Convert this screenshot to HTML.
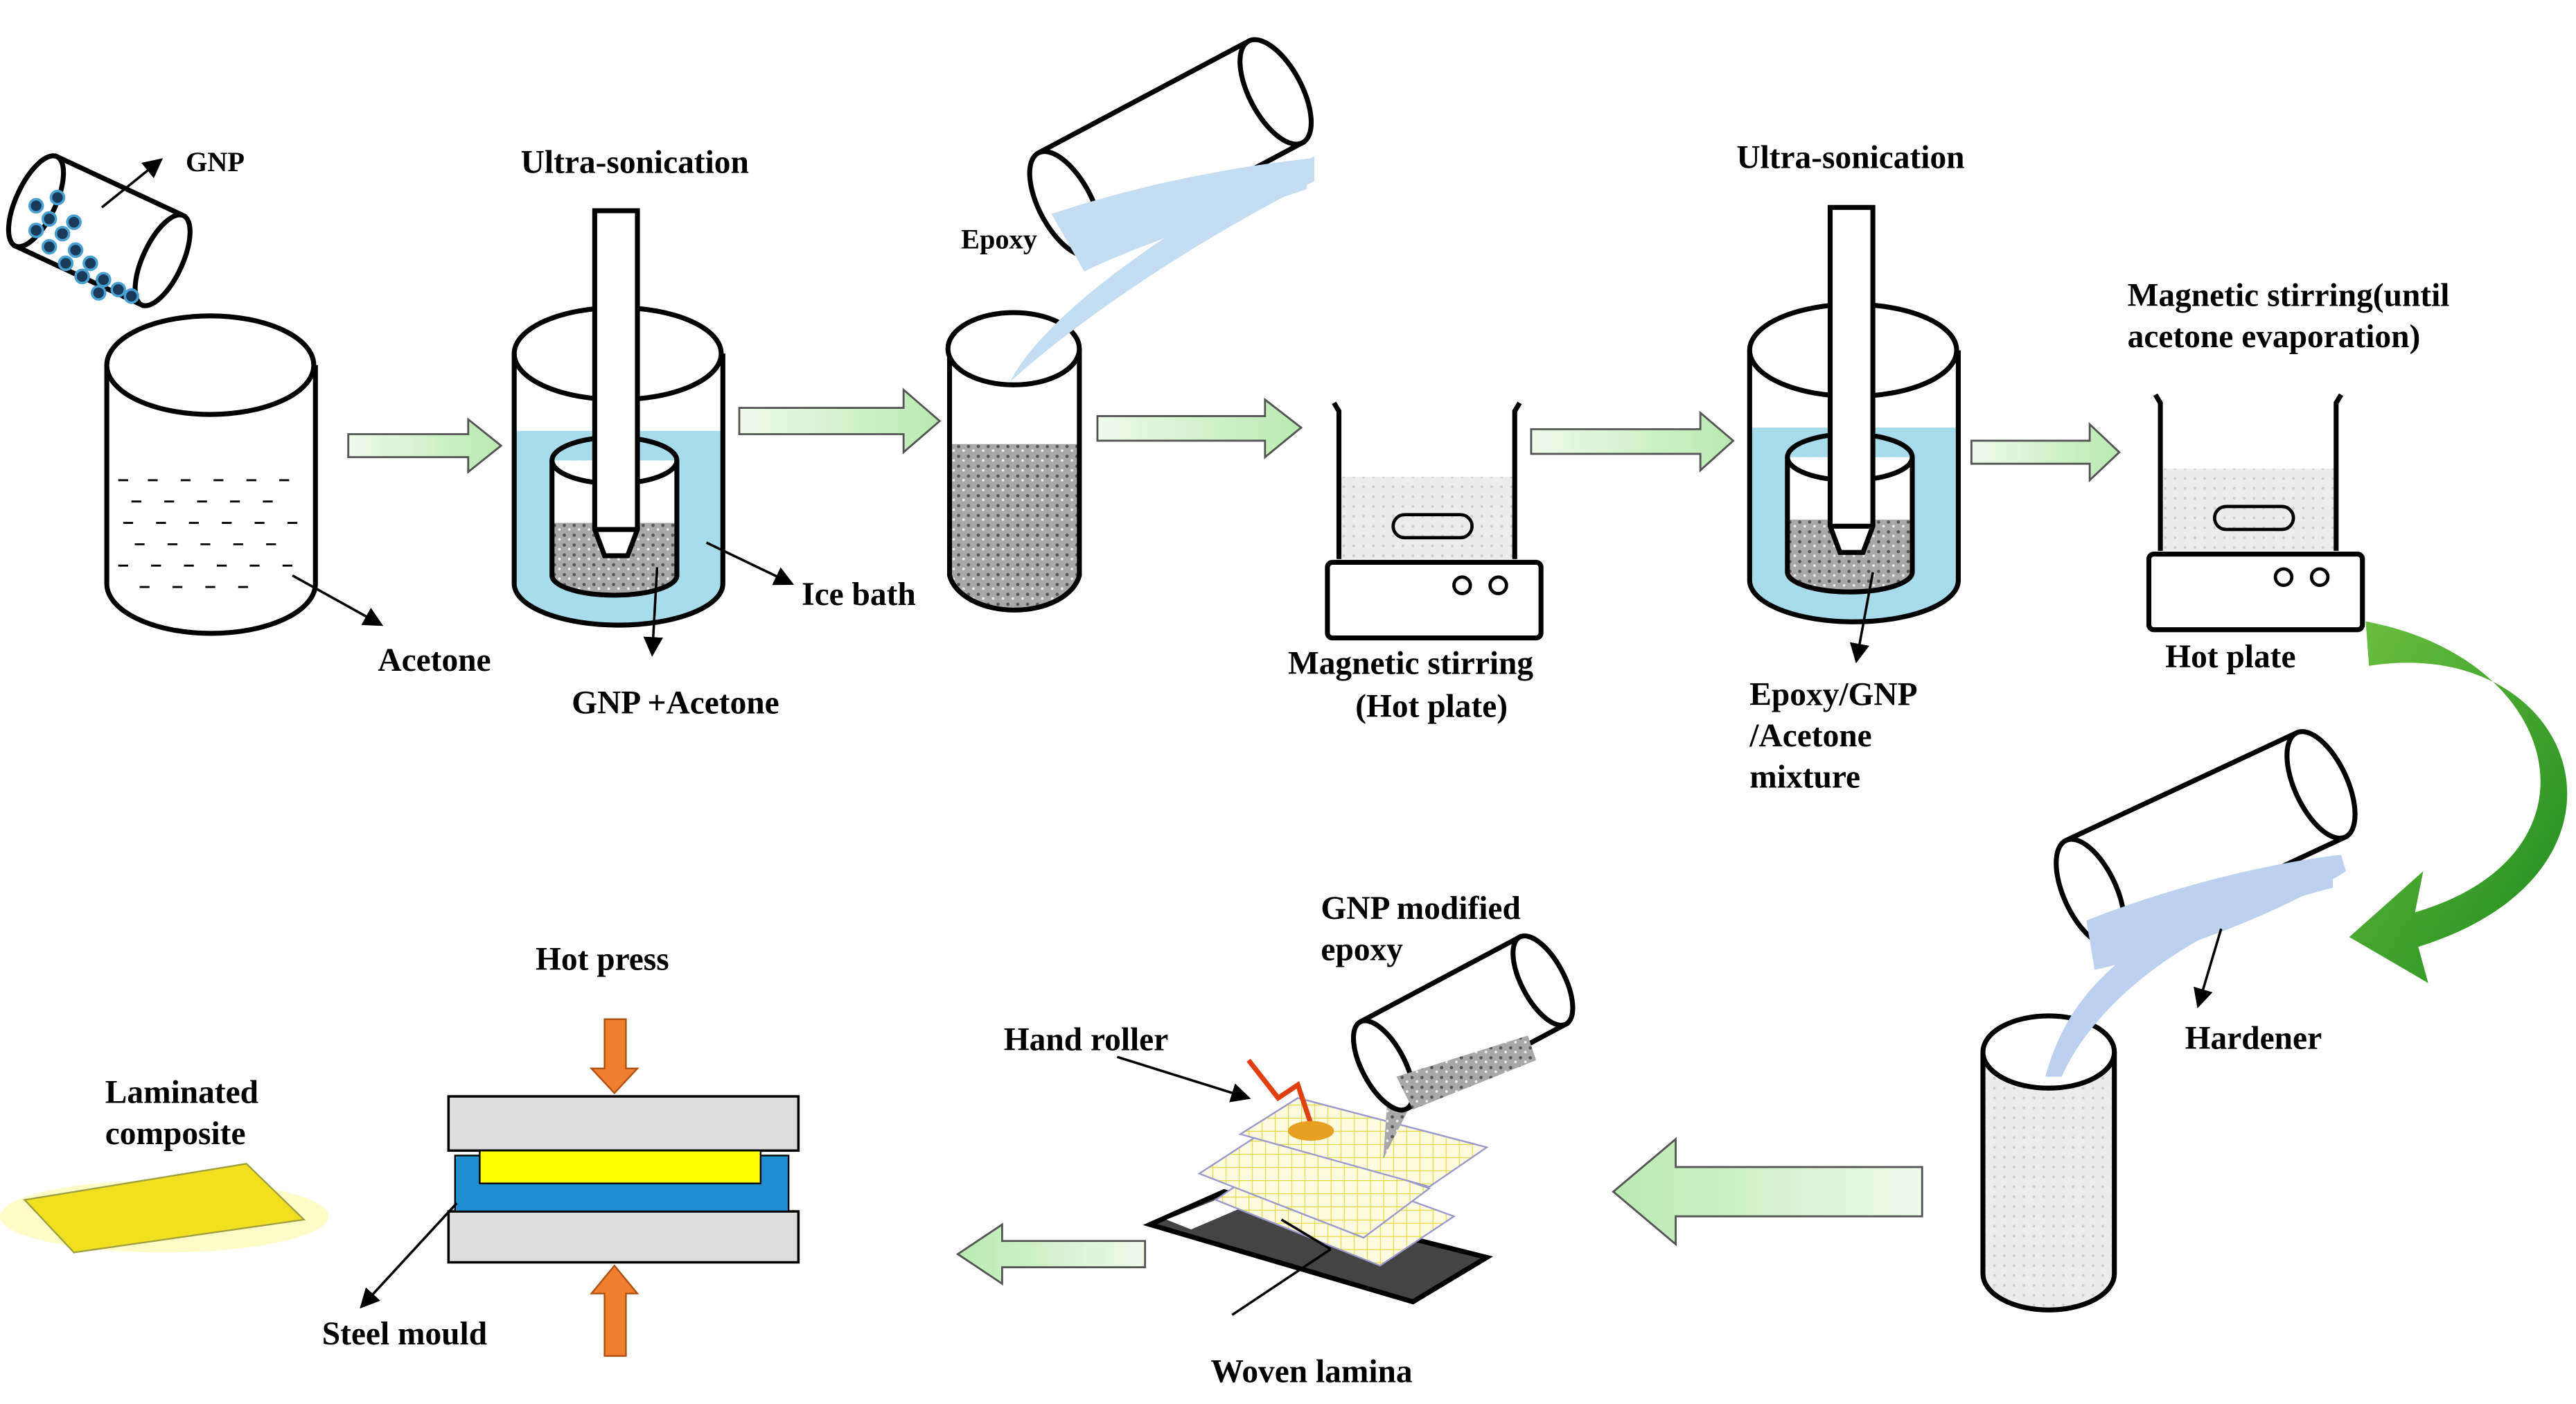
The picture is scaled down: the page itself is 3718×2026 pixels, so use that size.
<!DOCTYPE html>
<html><head><meta charset="utf-8"><style>html,body{margin:0;padding:0;background:#fff}svg{display:block}</style></head><body>
<svg width="3718" height="2026" viewBox="0 0 1568 854" xmlns="http://www.w3.org/2000/svg" font-family="Liberation Serif, serif" font-weight="bold" font-size="20">
<defs>
<linearGradient id="ga" x1="0" x2="1"><stop offset="0" stop-color="#eefaea"/><stop offset="1" stop-color="#b8eab0"/></linearGradient>
<linearGradient id="gl" x1="1" x2="0"><stop offset="0" stop-color="#eefaea"/><stop offset="1" stop-color="#b8eab0"/></linearGradient>
<linearGradient id="gc" x1="0" x2="1" y1="0" y2="1"><stop offset="0" stop-color="#6cc040"/><stop offset="1" stop-color="#1d8a1d"/></linearGradient>
<pattern id="grey" width="6" height="6" patternUnits="userSpaceOnUse"><rect width="6" height="6" fill="#a8a8a8"/><circle cx="1.5" cy="1.5" r="1" fill="#555"/><circle cx="4.5" cy="4" r="0.8" fill="#eee"/></pattern>
<pattern id="lgrey" width="6" height="6" patternUnits="userSpaceOnUse"><rect width="6" height="6" fill="#ececec"/><circle cx="2" cy="2" r="0.8" fill="#ccc"/></pattern>
<pattern id="grid" width="8" height="8" patternUnits="userSpaceOnUse"><rect width="8" height="8" fill="#fffbe0"/><path d="M0 0H8M0 0V8" stroke="#e8d840" stroke-width="1"/></pattern>
<marker id="ar" markerWidth="8" markerHeight="8" refX="7" refY="4" orient="auto"><path d="M0 0L8 4L0 8z" fill="#000"/></marker>
</defs>
<g stroke="#000" stroke-width="3" fill="none">
<g transform="rotate(25 60 140)"><rect x="18" y="110" width="85" height="60" fill="#fff"/><ellipse cx="18" cy="140" rx="12" ry="30" fill="#fff"/><ellipse cx="103" cy="140" rx="12" ry="30" fill="#fff"/></g>
<g fill="#1a3a5a" stroke="#4aa0d0" stroke-width="1.5">
<circle cx="22" cy="125" r="4"/><circle cx="30" cy="133" r="4"/><circle cx="22" cy="140" r="4"/><circle cx="38" cy="142" r="4"/><circle cx="30" cy="150" r="4"/><circle cx="46" cy="152" r="4"/><circle cx="40" cy="160" r="4"/><circle cx="55" cy="160" r="4"/><circle cx="50" cy="168" r="4"/><circle cx="63" cy="170" r="4"/><circle cx="72" cy="176" r="4"/><circle cx="60" cy="178" r="4"/><circle cx="80" cy="180" r="4"/><circle cx="35" cy="120" r="4"/><circle cx="45" cy="135" r="4"/></g>
<line x1="62" y1="126" x2="98" y2="97" stroke-width="1.5" marker-end="url(#ar)"/>
<path d="M65 222V355A63 30 0 0 0 192 355V222" fill="#fff"/><ellipse cx="128" cy="222" rx="63" ry="30" fill="#fff"/>
<g stroke-width="1.2"><path d="M72 292h6M90 292h6M110 292h6M130 292h6M150 292h6M170 292h6M80 305h6M100 305h6M120 305h6M140 305h6M160 305h6M75 318h6M95 318h6M115 318h6M135 318h6M155 318h6M175 318h6M82 331h6M102 331h6M122 331h6M142 331h6M162 331h6M72 344h6M92 344h6M112 344h6M132 344h6M152 344h6M172 344h6M85 357h6M105 357h6M125 357h6M145 357h6"/></g>
<line x1="178" y1="350" x2="232" y2="380" stroke-width="1.5" marker-end="url(#ar)"/>
<g id="son"><path d="M313 262V355A63 25 0 0 0 440 355V262" fill="#a8dcec" stroke="none"/><path d="M313 215V355A63 25 0 0 0 440 355V215"/><ellipse cx="376" cy="215" rx="63" ry="28"/>
<path d="M336 280V350A38 12 0 0 0 412 350V280" fill="url(#grey)" stroke="none"/><rect x="336" y="280" width="76" height="38" fill="#fff" stroke="none"/><path d="M336 280V350A38 12 0 0 0 412 350V280"/><ellipse cx="374" cy="280" rx="38" ry="14" fill="none"/>
<path d="M362 128H388V322L382 338H368L362 322Z" fill="#fff"/><line x1="362" y1="322" x2="388" y2="322"/></g>
<use href="#son" transform="translate(752 -2)"/>
<line x1="400" y1="345" x2="397" y2="398" stroke-width="1.5" marker-end="url(#ar)"/>
<line x1="430" y1="330" x2="482" y2="355" stroke-width="1.5" marker-end="url(#ar)"/>
<line x1="1140" y1="348" x2="1130" y2="402" stroke-width="1.5" marker-end="url(#ar)"/>
<path d="M578 270V350A40 25 0 0 0 657 350V270Z" fill="url(#grey)" stroke="none"/><path d="M578 212V350A40 25 0 0 0 657 350V212"/><ellipse cx="617" cy="212" rx="40" ry="22" fill="#fff"/>
<path d="M615 232C630 200 700 140 800 95L800 110C720 150 650 200 615 232Z" fill="#c4ddf2" stroke="none"/>
<g transform="rotate(-28 712 90)"><path d="M640 55H785V125H640" fill="#fff"/><ellipse cx="785" cy="90" rx="16" ry="35" fill="#fff"/><ellipse cx="640" cy="90" rx="16" ry="35" fill="#fff"/></g>
<path d="M640 130C700 110 760 100 800 96L795 115C750 130 690 150 660 165Z" fill="#c4ddf2" stroke="none"/>
<g id="hp"><rect x="815" y="290" width="108" height="50" fill="url(#lgrey)" stroke="none"/><path d="M812 245L815 250V340M925 245L922 250V340"/><rect x="848" y="313" width="48" height="14" rx="7" stroke-width="2"/><rect x="808" y="342" width="130" height="46" rx="3" fill="#fff"/><circle cx="890" cy="356" r="5" stroke-width="2"/><circle cx="912" cy="356" r="5" stroke-width="2"/></g>
<use href="#hp" transform="translate(500 -5)"/>
<path d="M1440 378C1560 400 1590 520 1470 555L1475 530L1430 570L1478 598L1472 576C1620 530 1570 385 1442 405Z" fill="url(#gc)" stroke="none"/>
<path d="M1207 640V775A40 22 0 0 0 1287 775V640" fill="url(#lgrey)"/><ellipse cx="1247" cy="640" rx="40" ry="22" fill="#fff"/>
<path d="M1245 655C1260 600 1300 560 1420 525L1420 540C1320 565 1270 620 1255 655Z" fill="#bcd0f0" stroke="none"/>
<g transform="rotate(-25 1343 510)"><path d="M1265 475H1420V545H1265" fill="#fff"/><ellipse cx="1420" cy="510" rx="16" ry="35" fill="#fff"/><ellipse cx="1265" cy="510" rx="16" ry="35" fill="#fff"/></g>
<path d="M1270 560C1320 540 1380 525 1425 520L1428 530C1380 560 1320 580 1275 590Z" fill="#bcd0f0" stroke="none"/>
<line x1="1352" y1="565" x2="1338" y2="612" stroke-width="1.5" marker-end="url(#ar)"/>
<path d="M700 745L745 725L905 765L860 792Z" fill="#444"/><path d="M710 742L745 728L760 733L725 748Z" fill="#fff" stroke="none"/>
<g stroke="#99c" stroke-width="1"><path d="M740 730L780 702L885 740L840 770Z" fill="url(#grid)"/><path d="M720 716L760 690L860 725L820 755Z" fill="url(#grid)" transform="translate(10 -2)"/><path d="M755 690L790 668L905 698L870 722Z" fill="url(#grid)"/></g>
<path d="M760 645L778 668L790 660L800 690" stroke="#e04010" stroke-width="3"/><ellipse cx="798" cy="688" rx="14" ry="6" fill="#e8a020" stroke="none"/>
<line x1="680" y1="643" x2="760" y2="668" stroke-width="1.5" marker-end="url(#ar)"/>
<line x1="810" y1="760" x2="750" y2="800" stroke-width="1.5"/><line x1="780" y1="742" x2="810" y2="760" stroke-width="1.5"/>
<path d="M845 660L865 660L842 705Z" fill="url(#grey)" stroke="none"/>
<g transform="rotate(-28 895 620)"><path d="M835 590H945V650H835" fill="#fff"/><ellipse cx="945" cy="620" rx="13" ry="30" fill="#fff"/><ellipse cx="835" cy="620" rx="13" ry="30" fill="#fff"/></g>
<path d="M850 655L930 630L935 645L860 675Z" fill="url(#grey)" stroke="none"/>
<rect x="273" y="667" width="213" height="33" fill="#ddd" stroke-width="1.5"/><rect x="273" y="737" width="213" height="31" fill="#ddd" stroke-width="1.5"/>
<rect x="277" y="703" width="203" height="34" fill="#1e8ed0" stroke-width="1"/><rect x="292" y="700" width="171" height="20" fill="#ffff00" stroke-width="1"/>
<path d="M368 620H381V650H388L374 665L360 650H368Z" fill="#f08030" stroke="#b05010" stroke-width="1"/>
<path d="M368 825H381V787H388L374 770L360 787H368Z" fill="#f08030" stroke="#b05010" stroke-width="1"/>
<line x1="278" y1="732" x2="220" y2="795" stroke-width="1.5" marker-end="url(#ar)"/>
<ellipse cx="100" cy="740" rx="100" ry="22" fill="#fffbb0" stroke="none" opacity="0.7"/>
<path d="M15 730L150 708L185 742L45 762Z" fill="#f0e020" stroke="#a0a040" stroke-width="1"/>
</g>
<g stroke="#555" stroke-width="1.2">
<path d="M212 264H285V255L305 271L285 287V278H212Z" fill="url(#ga)"/>
<path d="M450 248H550V237L572 256L550 275V264H450Z" fill="url(#ga)"/>
<path d="M668 253H770V243L792 260L770 278V268H668Z" fill="url(#ga)"/>
<path d="M932 261H1035V251L1055 268L1035 286V276H932Z" fill="url(#ga)"/>
<path d="M1200 268H1272V258L1290 275L1272 292V282H1200Z" fill="url(#ga)"/>
<path d="M1170 710H1020V693L982 725L1020 757V740H1170Z" fill="url(#gl)"/>
<path d="M697 755H610V745L583 763L610 781V771H697Z" fill="url(#gl)"/>
</g>
<g fill="#000">
<text x="113" y="104" font-size="17">GNP</text>
<text x="230" y="408">Acetone</text>
<text x="317" y="105">Ultra-sonication</text>
<text x="488" y="368">Ice bath</text>
<text x="348" y="434">GNP +Acetone</text>
<text x="585" y="151" font-size="17">Epoxy</text>
<text x="784" y="410">Magnetic stirring</text>
<text x="825" y="436">(Hot plate)</text>
<text x="1057" y="102">Ultra-sonication</text>
<text x="1065" y="429">Epoxy/GNP</text>
<text x="1065" y="454">/Acetone</text>
<text x="1065" y="479">mixture</text>
<text x="1295" y="186">Magnetic stirring(until</text>
<text x="1295" y="211">acetone evaporation)</text>
<text x="1318" y="406">Hot plate</text>
<text x="1330" y="638">Hardener</text>
<text x="804" y="559">GNP modified</text>
<text x="804" y="584">epoxy</text>
<text x="611" y="639">Hand roller</text>
<text x="737" y="841">Woven lamina</text>
<text x="326" y="590">Hot press</text>
<text x="196" y="818">Steel mould</text>
<text x="64" y="671">Laminated</text>
<text x="64" y="696">composite</text>
</g>
</svg>
</body></html>
